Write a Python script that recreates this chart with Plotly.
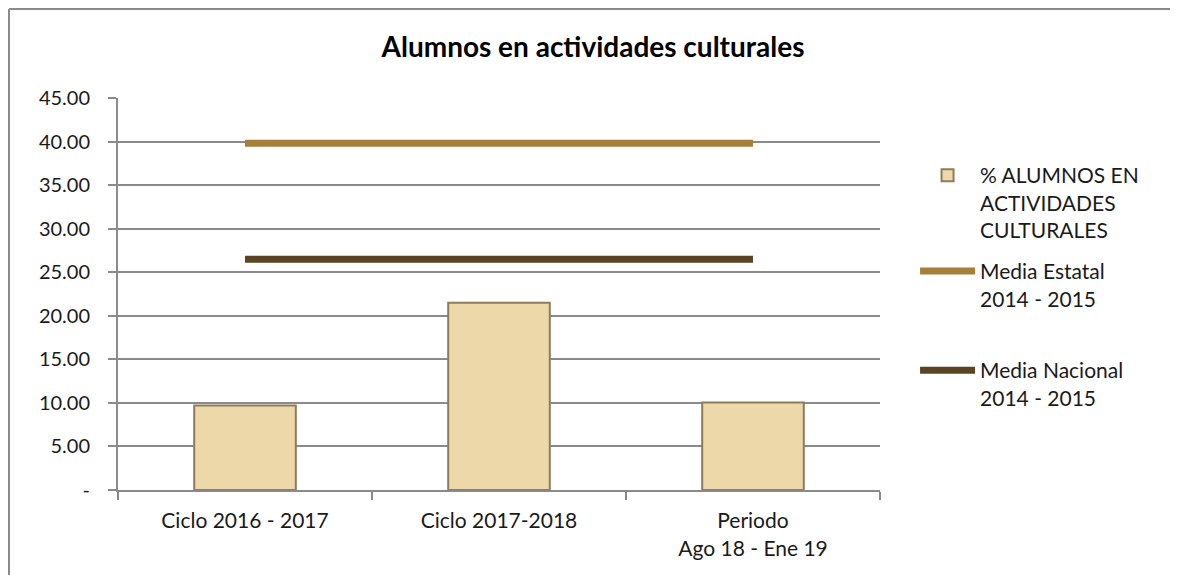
import plotly.graph_objects as go

# Datos
categorias = ["Ciclo 2016 - 2017", "Ciclo 2017-2018", "Periodo<br>Ago 18 - Ene 19"]
pct_alumnos = [9.7, 21.5, 10.05]
media_estatal = [39.8, 39.8, 39.8]
media_nacional = [26.5, 26.5, 26.5]

tick_vals = [0, 5, 10, 15, 20, 25, 30, 35, 40, 45]
tick_text = ["-", "5.00", "10.00", "15.00", "20.00", "25.00", "30.00", "35.00", "40.00", "45.00"]

FUENTE = "Lato, Calibri, sans-serif"
GRIS = "#8A8A8A"

fig = go.Figure()

fig.add_trace(go.Bar(
    x=categorias,
    y=pct_alumnos,
    name="% ALUMNOS EN<br>ACTIVIDADES<br>CULTURALES",
    marker=dict(color="#EDD8AA", line=dict(color="#8E7B5B", width=2)),
    width=0.4,
    legendgroup="a",
))

fig.add_trace(go.Scatter(
    x=categorias,
    y=media_estatal,
    mode="lines",
    name="Media Estatal<br>2014 - 2015",
    line=dict(color="#A6803A", width=7),
    legendgroup="b",
))

fig.add_trace(go.Scatter(
    x=categorias,
    y=media_nacional,
    mode="lines",
    name="Media Nacional<br>2014 - 2015",
    line=dict(color="#5A4423", width=7),
    legend="legend2",
))

leyenda = dict(
    x=1.046, xanchor="left",
    yanchor="top",
    valign="top",
    itemwidth=55,
    font=dict(family=FUENTE, size=21, color="#1a1a1a"),
    bgcolor="rgba(0,0,0,0)",
)

# la página tiene un margen de 8 px, por eso 1170x567
fig.update_layout(
    width=1170,
    height=567,
    margin=dict(l=110, r=298, t=90, b=85),
    paper_bgcolor="white",
    plot_bgcolor="white",
    font=dict(family=FUENTE, size=20, color="#1a1a1a"),
    title=dict(
        text="<b>Alumnos en actividades culturales</b>",
        x=0.5, xref="container",
        y=1 - 39 / 567, yref="container", yanchor="middle",
        font=dict(family=FUENTE, size=28, color="black"),
    ),
    showlegend=True,
    legend=dict(leyenda, y=0.8546, tracegroupgap=11),
    legend2=dict(leyenda, y=0.357),
    xaxis=dict(
        showline=True, linecolor=GRIS, linewidth=2,
        ticks="outside", ticklen=8, tickcolor=GRIS, tickwidth=2,
        tickson="boundaries",
        ticklabelstandoff=11,
        showgrid=False,
        tickfont=dict(size=21),
    ),
    yaxis=dict(
        range=[0, 45],
        tickvals=tick_vals, ticktext=tick_text,
        showline=True, linecolor=GRIS, linewidth=2,
        ticks="outside", ticklen=8, tickcolor=GRIS, tickwidth=2,
        ticklabelstandoff=14,
        showgrid=True, gridcolor=GRIS, gridwidth=2,
        zeroline=False,
        tickfont=dict(size=20),
    ),
)

# Marco del gráfico (solo borde izquierdo y superior)
borde_x = (1 - 110) / 762
borde_y = 1 + (90 - 1) / 392
fig.add_shape(type="line", xref="paper", yref="paper",
              x0=borde_x, x1=borde_x, y0=-0.4, y1=borde_y,
              line=dict(color=GRIS, width=2), layer="below")
fig.add_shape(type="line", xref="paper", yref="paper",
              x0=borde_x, x1=1.5, y0=borde_y, y1=borde_y,
              line=dict(color=GRIS, width=2), layer="below")

fig.write_html("out.html")
